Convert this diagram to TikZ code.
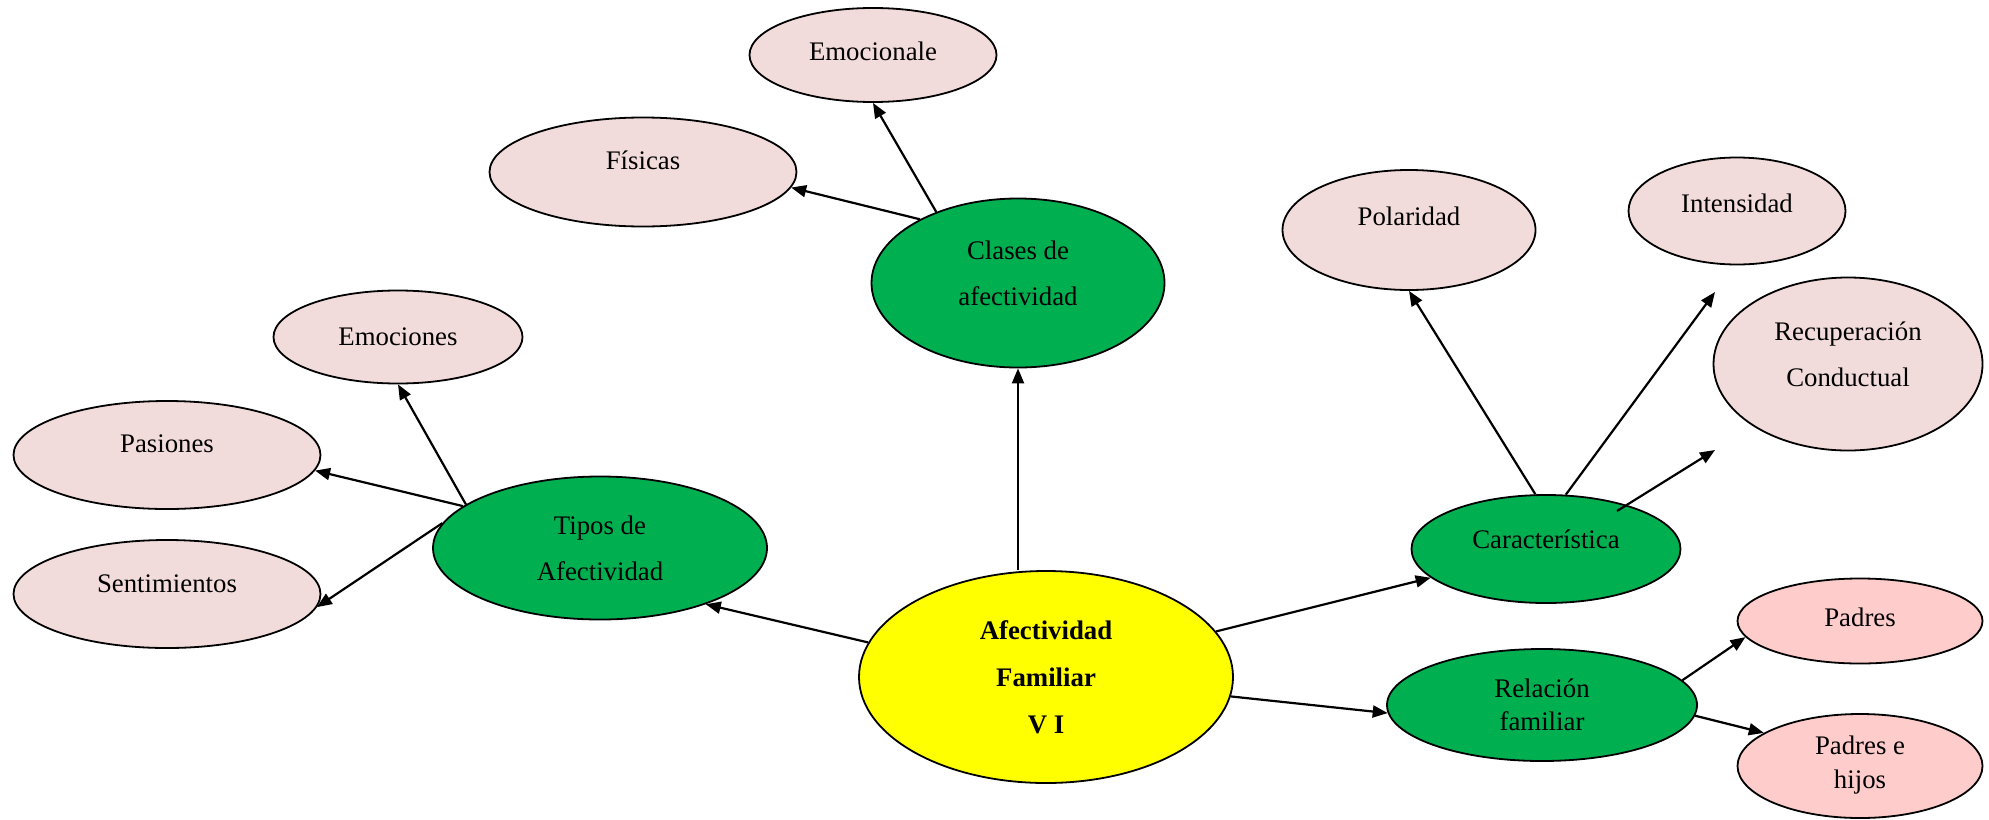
\documentclass[tikz,border=0pt]{standalone}
\usepackage{fontspec}
\setmainfont{Liberation Serif}
\usetikzlibrary{shapes.geometric,arrows.meta}
\definecolor{rosa}{RGB}{242,220,219}
\definecolor{rosafuerte}{RGB}{255,204,204}
\definecolor{verde}{RGB}{0,176,80}
\definecolor{amarillo}{RGB}{255,255,0}
\tikzset{every node/.style={font=\fontsize{13.4pt}{23pt}\selectfont, align=center},
    tam/.style 2 args={minimum width=#1*0.5pt, minimum height=#2*0.5pt},
    sube/.style={text depth=#1},
    burbuja/.style={ellipse, draw, line width=0.9pt, inner sep=0pt},
    hoja/.style={burbuja, fill=rosa},
    tema/.style={burbuja, fill=verde},
    familia/.style={burbuja, fill=rosafuerte},
    principal/.style={burbuja, fill=amarillo, font=\fontsize{13.4pt}{23.5pt}\selectfont\bfseries},
    flecha/.style={-{Triangle[length=7.5pt,width=6pt]}, line width=1.1pt},
    }

\begin{document}
\begin{tikzpicture}[x=0.5pt, y=-0.5pt]
\useasboundingbox (0,0) rectangle (1989,819);
\node[principal, tam={374}{212}] (vi) at (1046,677) {Afectividad\\Familiar\\V I};
% ramas verdes
\node[tema, tam={334}{143}] (tipos) at (600,548) {Tipos de\\Afectividad};
\node[tema, tam={293}{169}, sube=9.6pt] (clases) at (1018,283) {Clases de\\afectividad};
\node[tema, tam={269}{108}, sube=10pt] (caract) at (1546,549) {Característica};
\node[tema, tam={310}{112}, font=\fontsize{13.4pt}{16.5pt}\selectfont] (relacion) at (1542,705) {Relación\\familiar};
% hojas
\node[hoja, tam={249}{93}] (emociones) at (398,337) {Emociones};
\node[hoja, tam={307}{108}, sube=11.4pt] (pasiones) at (167,455) {Pasiones};
\node[hoja, tam={307}{108}, sube=10pt] (sentim) at (167,594) {Sentimientos};
\node[hoja, tam={247}{94}, sube=4pt] (emocionale) at (873,55) {Emocionale};
\node[hoja, tam={307}{109}, sube=11.4pt] (fisicas) at (643,172) {Físicas};
\node[hoja, tam={253}{120}, sube=14pt] (polaridad) at (1409,230) {Polaridad};
\node[hoja, tam={217}{107}, sube=7.6pt] (intensidad) at (1737,211) {Intensidad};
\node[hoja, tam={269}{173}, sube=9.6pt] (recup) at (1848,364) {Recuperación\\Conductual};
\node[familia, tam={245}{85}, sube=4pt] (padres) at (1860,621) {Padres};
\node[familia, tam={245}{104}, font=\fontsize{13.4pt}{17pt}\selectfont, sube=4pt] (hijos) at (1860,766) {Padres e\\hijos};
\coordinate (libre1) at (1715,292);
\coordinate (libre2) at (1715,450);

\draw[flecha] (vi.169) -- (tipos.332);
\draw[flecha] (vi.north -| clases.south) -- (clases.south);
\draw[flecha] (vi.15) -- (caract.194);
\draw[flecha] (vi.354) -- (relacion.183);
\draw[flecha] (tipos.162) -- (emociones.south);
\draw[flecha] (tipos.163) -- (pasiones.354);
\draw[flecha] (tipos.171) -- (sentim.355);
\draw[flecha] (clases.147) -- (fisicas.354);
\draw[flecha] (clases.139) -- (emocionale.south);
\draw[flecha] (caract.101) -- (polaridad.south);
\draw[flecha] (caract.70) -- (libre1);
\draw[flecha] ([shift={(71,-38)}]caract.center) -- (libre2);
\draw[flecha] (relacion.10) -- (padres.188);
\draw[flecha] (relacion.356) -- (hijos.161);
\end{tikzpicture}
\end{document}
